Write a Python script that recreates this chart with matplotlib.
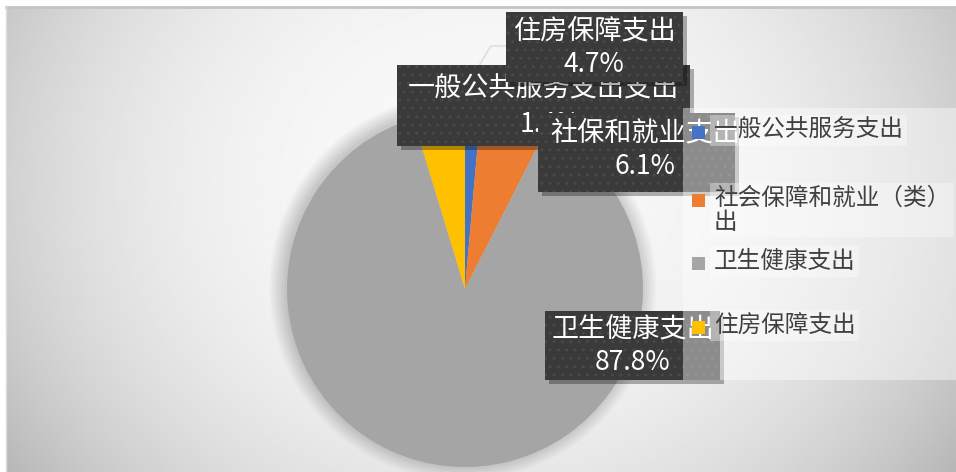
import numpy as np
import matplotlib
matplotlib.use("Agg")
import matplotlib.pyplot as plt
from matplotlib.patches import Rectangle, Circle

plt.rcParams['font.family'] = ['Noto Sans CJK SC', 'DejaVu Sans']
plt.rcParams['hatch.linewidth'] = 0.9

# data
categories = ['一般公共服务支出', '社会保障和就业（类）\n出', '卫生健康支出', '住房保障支出']
label_names = ['一般公共服务支出支出', '社保和就业支出', '卫生健康支出', '住房保障支出']
values = [1.4, 6.1, 87.8, 4.7]
colors = ['#4472C4', '#ED7D31', '#A5A5A5', '#FFC000']

W, H = 956, 472
fig = plt.figure(figsize=(W / 100, H / 100), dpi=100)
fig.patch.set_facecolor('white')

# background gradient
bg = fig.add_axes([7 / W, 0, (W - 7) / W, (H - 7) / H], zorder=0)
xx, yy = np.meshgrid(np.linspace(7, W, 400), np.linspace(7, H, 200))
d = np.sqrt(((xx - 480) / 480) ** 2 + ((yy - 180) / 420) ** 2)
shade = np.clip(0.975 - 0.16 * d ** 2.5, 0, 1)
bg.imshow(shade, cmap='gray', vmin=0, vmax=1, aspect='auto', extent=[0, 1, 0, 1], origin='upper')
bg.axis('off')

# pie
cx, cy, r = 465, 289, 178
pax = fig.add_axes([(cx - r) / W, (H - cy - r) / H, 2 * r / W, 2 * r / H], zorder=1)
for k in range(12):
    pax.add_patch(Circle((-0.012, 0.012), 1.0 + 0.008 * k, color='black', alpha=0.014, lw=0,
                         zorder=0, clip_on=False))
wedges, _ = pax.pie(values, colors=colors, startangle=90, counterclock=False, radius=1,
                    wedgeprops=dict(linewidth=0))
for w in wedges:
    w.set_clip_on(False)
pax.set_aspect('auto')
pax.set_xlim(-1, 1)
pax.set_ylim(-1, 1)
pax.axis('off')

# overlay (pixel coordinates, origin top-left)
ov = fig.add_axes([0, 0, 1, 1], zorder=2)
ov.set_xlim(0, W)
ov.set_ylim(H, 0)
ov.axis('off')

# frame lines
ov.plot([6, W], [6.5, 6.5], color='#c4c4c4', lw=2)
ov.plot([6.5, 6.5], [6, H], color='#dcdcdc', lw=1)

# leader line for 住房保障支出
ov.plot([480, 491, 507], [64, 46, 46], color='#e0e0e0', lw=1.3, zorder=1)

# label boxes: (index, box x0, y0, x1, y1, name x, line1 y, line2 y, pct x)
boxes = [
    (0, 397, 65, 690, 146, 543, 89, 125, 550),
    (1, 538, 113, 735, 192, 645, 133, 166, 645),
    (3, 506, 12, 683, 82, 594, 31, 64, 594),
    (2, 545, 311, 720, 380, 633, 329, 362, 633),
]
z = 3
for i, x0, y0, x1, y1, tx, l1, l2, px in boxes:
    ov.add_patch(Rectangle((x0 + 4, y0 + 4), x1 - x0, y1 - y0, fc='black', alpha=0.3, lw=0, zorder=z))
    ov.add_patch(Rectangle((x0, y0), x1 - x0, y1 - y0, fc='#3a3a3a', ec='#4a4a4a', lw=0,
                           hatch='..', zorder=z + 0.1))
    ov.text(tx, l1, label_names[i], color='white', fontsize=19.5, ha='center', va='center', zorder=z + 0.2)
    ov.text(px, l2, f'{values[i]}%', color='white', fontsize=19, ha='center', va='center', zorder=z + 0.2)
    z += 1

# legend
ov.add_patch(Rectangle((683, 108), W - 683, 272, fc='white', alpha=0.42, lw=0, zorder=10))
legend_y = [132, 200, 263, 327]
for cat, col, my in zip(categories, colors, legend_y):
    ov.add_patch(Rectangle((692, my - 6.5), 13, 13, fc=col, lw=0, zorder=11))
    ov.text(714, my - 13, cat, color='#404040', fontsize=17, ha='left', va='top',
            linespacing=1.05, zorder=11,
            bbox=dict(boxstyle='square,pad=0.15', fc='white', ec='none', alpha=0.35))

fig.savefig('out.png', dpi=100)
